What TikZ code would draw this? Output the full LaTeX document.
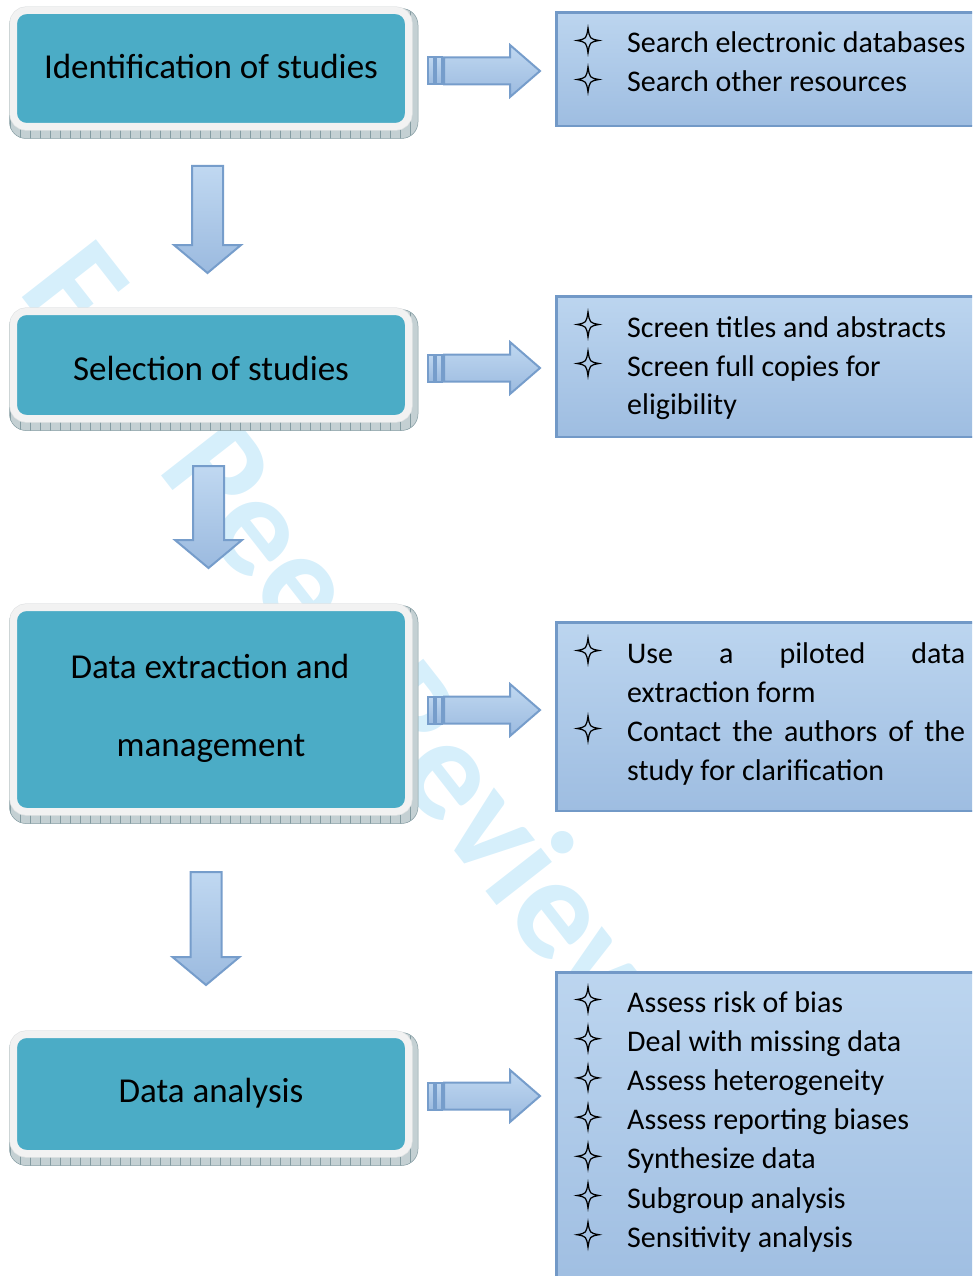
\documentclass[tikz,border=0pt]{standalone}
\usepackage{fontspec}
\setmainfont{Carlito}
\usetikzlibrary{patterns.meta}
\pgfdeclarelayer{wm}
\pgfdeclarelayer{shade}
\pgfsetlayers{wm,shade,main}
\definecolor{stageteal}{RGB}{75,172,198}
\definecolor{rimgray}{RGB}{242,242,242}
\definecolor{rimedge}{RGB}{226,228,229}
\definecolor{shadowfill}{RGB}{196,208,211}
\definecolor{shadowline}{RGB}{132,156,162}
\definecolor{boxtop}{RGB}{188,213,239}
\definecolor{boxbot}{RGB}{158,189,225}
\definecolor{boxedge}{RGB}{114,153,199}
\definecolor{arrtop}{RGB}{192,216,241}
\definecolor{arrbot}{RGB}{155,186,223}
\definecolor{arredge}{RGB}{118,157,203}
\definecolor{wmcolor}{RGB}{214,239,251}
\begin{document}
\begin{tikzpicture}[x=1pt,y=-1pt,
 stage/.style={rounded corners=13pt, fill=stageteal, draw=rimgray, line width=7pt,
   preaction={draw=rimedge,line width=8.4pt}, minimum width=395pt, inner sep=0pt},
 stagetext/.style={font=\fontsize{35}{42}\selectfont, anchor=base, inner sep=0pt},
 stageshadow/.style={rounded corners=16.5pt, preaction={fill=shadowfill},
   pattern={Lines[angle=90,distance=10pt,line width=0.4pt]}, pattern color=shadowline,
   draw=shadowline, line width=0.5pt},
 listbox/.style={draw=boxedge, line width=2.6pt, top color=boxtop, bottom color=boxbot,
   minimum width=440pt, anchor=north west, inner sep=0pt},
 item/.style={font=\fontsize{30}{39}\selectfont, anchor=base west, inner sep=0pt},
 starline/.style={draw=black, line width=1.25pt, line join=miter, miter limit=20},
 blockarrow/.style={draw=arredge, line width=2pt, top color=arrtop, bottom color=arrbot, line join=miter},
 wmtext/.style={font=\bfseries\fontsize{145}{145}\selectfont, text=wmcolor, inner sep=0pt, anchor=base west, rotate=-52},
 pics/star/.style={code={\path[starline] (0,-12.5) .. controls (1.7,-1.7) .. (11,0) .. controls (1.7,1.7) .. (0,12.5)
     .. controls (-1.7,1.7) .. (-11,0) .. controls (-1.7,-1.7) .. cycle;}},
 pics/dnarr/.style={code={\path[blockarrow] (-15.5,0) -- (15.5,0) -- (15.5,#1-28) -- (33.5,#1-28) -- (0,#1) -- (-33.5,#1-28) -- (-15.5,#1-28) -- cycle;}},
 pics/rtarr/.style={code={
   \path[blockarrow] (0,-13.5) rectangle (6,13.5);
   \path[blockarrow] (8,-13.5) rectangle (14,13.5);
   \path[blockarrow] (16,-13.5) -- (82,-13.5) -- (82,-26) -- (112,0) -- (82,26) -- (82,13.5) -- (16,13.5) -- cycle;}},
]
\useasboundingbox (0,0) rectangle (972,1276);
\clip (0,0) rectangle (972,1276);

% watermark
\begin{pgfonlayer}{wm}
\node[wmtext] (wm) at (17,291) {For Peer Review};
\end{pgfonlayer}

% stage boxes
\node[stage, minimum height=116pt] (s1) at (211,68.5) {};
\node[stage, minimum height=107pt] (s2) at (211,365) {};
\node[stage, minimum height=204pt] (s3) at (211,709.5) {};
\node[stage, minimum height=119pt] (s4) at (211,1094) {};
\begin{pgfonlayer}{shade}
\foreach \n in {s1,s2,s3,s4}{
  \path[stageshadow] ([shift={(-0.5,1.5)}]\n.north west) rectangle ([shift={(6,8.5)}]\n.south east);}
\end{pgfonlayer}
\node[stagetext] (t1) at (211,79) {Identification of studies};
\node[stagetext] (t2) at (211,380) {Selection of studies};
\node[stagetext] (t3a) at (210,678) {Data extraction and};
\node[stagetext] (t3b) at (211,756) {management};
\node[stagetext] (t4) at (211,1102) {Data analysis};

% down arrows
\pic at (207.5,166) {dnarr=107};
\pic at (208.5,466) {dnarr=102};
\pic at (206,872) {dnarr=113};

% right arrows
\pic at (428,71) {rtarr};
\pic at (428,368) {rtarr};
\pic at (428,710) {rtarr};
\pic at (428,1096) {rtarr};

% list boxes
\node[listbox, minimum height=113.4pt] (r1) at (555.3,11.3) {};
\node[listbox, minimum height=140.4pt] (r2) at (555.3,295.3) {};
\node[listbox, minimum height=188.4pt] (r3) at (555.3,621.3) {};
\node[listbox, minimum height=330pt] (r4) at (555.3,971.3) {};

% list 1
\pic at (588,40.5) {star};
\node[item] (i11) at (627,53) {Search electronic databases};
\pic at (588,79.5) {star};
\node[item] (i12) at (627,92) {Search other resources};
% list 2
\pic at (588,324.5) {star};
\node[item] (i21) at (627,337) {Screen titles and abstracts};
\pic at (588,363.5) {star};
\node[item] (i22) at (627,376) {Screen full copies for};
\node[item] (i23) at (627,414) {eligibility};
% list 3
\pic at (588,650.5) {star};
\node[item] (i31) at (627,663) {\makebox[338pt][s]{Use a piloted data}};
\node[item] (i32) at (627,702) {extraction form};
\pic at (588,728.5) {star};
\node[item] (i33) at (627,741) {\makebox[338pt][s]{Contact the authors of the}};
\node[item] (i34) at (627,780) {study for clarification};
% list 4
\foreach \k/\txt in {0/Assess risk of bias,1/Deal with missing data,2/Assess heterogeneity,3/Assess reporting biases,4/Synthesize data,5/Subgroup analysis,6/Sensitivity analysis}{
  \pic at (588,1012+39.2*\k-12.5) {star};
  \node[item] (i4\k) at (627,1012+39.2*\k) {\txt};
}
\end{tikzpicture}
\end{document}
